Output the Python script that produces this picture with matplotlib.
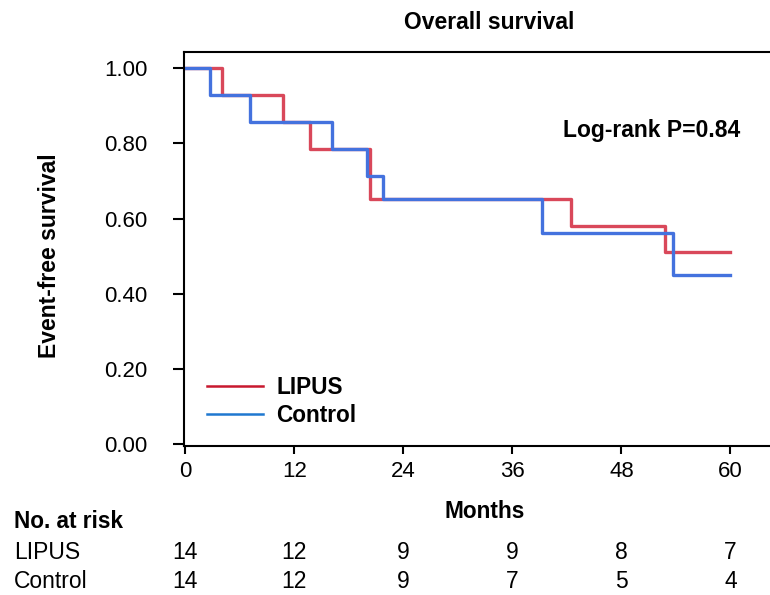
import matplotlib.pyplot as plt
import matplotlib.transforms as mtransforms

plt.rcParams['font.family'] = ['Liberation Sans', 'DejaVu Sans']

# Kaplan-Meier steps
lipus_t = [0, 4.0, 10.7, 13.7, 20.3, 42.5, 52.8, 60]
lipus_s = [1.0, 0.929, 0.857, 0.786, 0.651, 0.580, 0.510, 0.510]
control_t = [0, 2.75, 7.07, 16.1, 20.0, 21.7, 39.3, 53.7, 60]
control_s = [1.0, 0.929, 0.857, 0.786, 0.714, 0.651, 0.561, 0.450, 0.450]

# numbers at risk
risk_months = [0, 12, 24, 36, 48, 60]
risk_lipus = [14, 12, 9, 9, 8, 7]
risk_control = [14, 12, 9, 7, 5, 4]

x_ticks = [0, 12, 24, 36, 48, 60]
y_ticks = [0.0, 0.2, 0.4, 0.6, 0.8, 1.0]

fig = plt.figure(figsize=(7.7, 5.95), dpi=100)
ax = fig.add_axes([0.239, 0.2504, 0.761, 0.6622])

ax.step(lipus_t, lipus_s, where='post', color='#d9485a', lw=2.4)
ax.step(control_t, control_s, where='post', color='#4472de', lw=2.4)

# legend uses its own (darker) colours
ax.plot([], [], color='#c8182e', lw=1.8, label='LIPUS')
ax.plot([], [], color='#1f78d0', lw=1.8, label='Control')
ax.legend(loc='upper left', bbox_to_anchor=(0.005, 0.23), frameon=False,
          handlelength=2.45, handletextpad=0.6, labelspacing=0.22,
          prop={'weight': 'bold', 'size': 16.3})

ax.set_xlim(-0.15, 64.35)
ax.set_ylim(-0.005, 1.043)
ax.set_xticks(x_ticks)
ax.set_yticks(y_ticks)
ax.set_yticklabels([f'{v:.2f}' for v in y_ticks])

for s in ['left', 'top', 'bottom']:
    ax.spines[s].set_linewidth(1.5)
ax.spines['right'].set_visible(False)
ax.tick_params(axis='y', length=7.6, width=1.5, pad=18.5, labelsize=16)
ax.tick_params(axis='x', length=5.8, width=1.5, pad=5, labelsize=16)

fig.text(0.635, 0.963, 'Overall survival', ha='center', va='center',
         fontsize=16.5, fontweight='bold')
fig.text(0.731, 0.780, 'Log-rank P=0.84', ha='left', va='center',
         fontsize=16.5, fontweight='bold')
fig.text(0.064, 0.570, 'Event-free survival', ha='center', va='center',
         rotation=90, fontsize=16.5, fontweight='bold')
fig.text(0.629, 0.141, 'Months', ha='center', va='center',
         fontsize=16.3, fontweight='bold')

# risk table
fig.text(0.018, 0.1227, 'No. at risk', ha='left', va='center',
         fontsize=16.3, fontweight='bold')
fig.text(0.018, 0.0706, 'LIPUS', ha='left', va='center', fontsize=16.5)
fig.text(0.018, 0.022, 'Control', ha='left', va='center', fontsize=16.5)
trans = mtransforms.blended_transform_factory(ax.transData, fig.transFigure)
for m, a, b in zip(risk_months, risk_lipus, risk_control):
    ax.text(m, 0.0706, str(a), transform=trans, ha='center', va='center',
            fontsize=16.5, clip_on=False)
    ax.text(m, 0.022, str(b), transform=trans, ha='center', va='center',
            fontsize=16.5, clip_on=False)

fig.savefig('out.png', dpi=100)
